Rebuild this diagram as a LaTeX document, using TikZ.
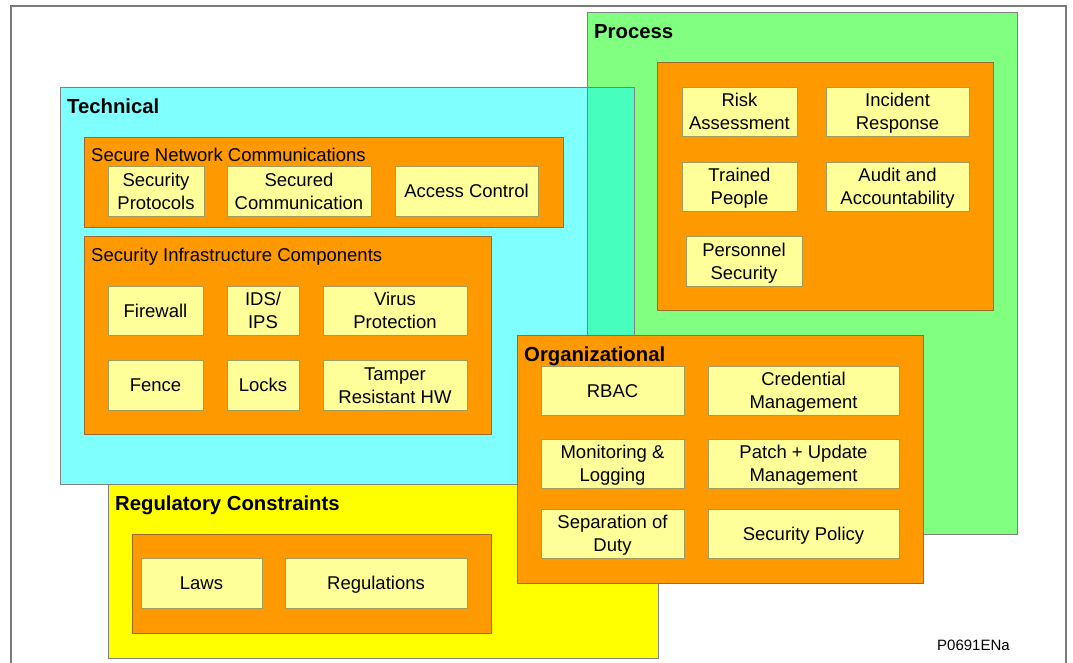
\documentclass[tikz,border=0pt]{standalone}
\usepackage{fontspec}
\setmainfont{Liberation Sans}
\definecolor{cgreen}{HTML}{80FF80}
\definecolor{ccyan}{HTML}{80FFFF}
\definecolor{cteal}{HTML}{46FFBE}
\definecolor{cyel}{HTML}{FFFF00}
\definecolor{corange}{HTML}{FF9900}
\definecolor{corline}{HTML}{9C6A2E}
\definecolor{citem}{HTML}{FFFF99}
\definecolor{citline}{HTML}{A09C60}
\definecolor{cline}{HTML}{808080}
\definecolor{cframe}{HTML}{7A7A7A}
\tikzset{
  outer/.style={draw=cline, line width=0.9pt, inner sep=0pt, outer sep=0pt},
  orbox/.style={draw=corline, fill=corange, line width=0.9pt, inner sep=0pt, outer sep=0pt},
  itembox/.style={draw=citline, fill=citem, line width=0.9pt, inner sep=0pt, outer sep=0pt,
    align=center, font=\fontsize{18.5}{23}\selectfont},
  heading/.style={anchor=base west, inner sep=0pt, font=\fontsize{20.3}{24}\selectfont\bfseries},
  sublabel/.style={anchor=base west, inner sep=0pt, font=\fontsize{18.5}{23}\selectfont},
}
\newcommand\ls{\rule[-3.7pt]{0pt}{20.7pt}}
\newcommand\bx[7]{\node[#6, minimum width={(#4-#2)*1pt}, minimum height={(#5-#3)*1pt}] (#1) at ({(#2+#4)/2},{(#3+#5)/2}) {#7};}
\begin{document}
\begin{tikzpicture}[x=1pt,y=-1pt]
\useasboundingbox (0,0) rectangle (1073,662);
\fill[white] (0,0) rectangle (1073,662);
% frame
\draw[cframe, line width=2pt] (11,670) -- (11,6) -- (1066,6) -- (1066,670);
% big groups
\bx{proc}{587}{12}{1017}{534}{outer, fill=cgreen}{}
\bx{tech}{60}{87}{634}{484}{outer, fill=ccyan}{}
\fill[cteal] (587,87) rectangle (634,484);
\draw[cline, line width=0.9pt] (proc.south west) rectangle (proc.north east);
\draw[cline, line width=0.9pt] (tech.south west) rectangle (tech.north east);
\bx{reg}{108}{484}{658}{658}{outer, fill=cyel}{}
\draw[cline, line width=0.9pt] (tech.south west) -- (tech.south east);
% headings
\node[heading] (hproc) at (594,38) {Process};
\node[heading] (htech) at (67,113) {Technical};
\node[heading] (hreg) at (115,510) {Regulatory Constraints};
% process inner
\bx{procin}{657}{62}{993}{310}{orbox}{}
\bx{risk}{682}{87}{797}{136}{itembox}{\ls Risk\\\ls Assessment}
\bx{incid}{826}{87}{969}{136}{itembox}{\ls Incident\\\ls Response}
\bx{trained}{682}{162}{797}{211}{itembox}{\ls Trained\\\ls People}
\bx{audit}{826}{162}{969}{211}{itembox}{\ls Audit and\\\ls Accountability}
\bx{pers}{686}{236}{802}{286}{itembox}{\ls Personnel\\\ls Security}
% technical inner
\bx{snc}{84}{137}{563}{227}{orbox}{}
\node[sublabel] (lsnc) at (91,161) {Secure Network Communications};
\bx{secprot}{108}{166}{204}{216}{itembox}{\ls Security\\\ls Protocols}
\bx{seccomm}{227}{166}{371}{216}{itembox}{\ls Secured\\\ls Communication}
\bx{access}{395}{166}{538}{216}{itembox}{\ls Access Control}
\bx{sic}{84}{236}{491}{434}{orbox}{}
\node[sublabel] (lsic) at (91,261) {Security Infrastructure Components};
\bx{fire}{108}{286}{203}{335}{itembox}{\ls Firewall}
\bx{ids}{227}{286}{299}{335}{itembox}{\ls IDS/\\\ls IPS}
\bx{virus}{323}{286}{467}{335}{itembox}{\ls Virus\\\ls Protection}
\bx{fence}{108}{360}{203}{410}{itembox}{\ls Fence}
\bx{locks}{227}{360}{299}{410}{itembox}{\ls Locks}
\bx{tamper}{323}{360}{467}{410}{itembox}{\ls Tamper\\\ls Resistant HW}
% regulatory inner
\bx{regin}{132}{534}{491}{633}{orbox}{}
\bx{laws}{141}{558}{262}{608}{itembox}{\ls Laws}
\bx{regs}{285}{558}{467}{608}{itembox}{\ls Regulations}
% organizational
\bx{org}{517}{335}{923}{583}{orbox}{}
\node[heading] (horg) at (524,361) {Organizational};
\bx{rbac}{541}{366}{684}{415}{itembox}{\ls RBAC}
\bx{cred}{708}{366}{899}{415}{itembox}{\ls Credential\\\ls Management}
\bx{monit}{541}{439}{684}{488}{itembox}{\ls Monitoring \&\\\ls Logging}
\bx{patch}{708}{439}{899}{488}{itembox}{\ls Patch + Update\\\ls Management}
\bx{sep}{541}{509}{684}{558}{itembox}{\ls Separation of\\\ls Duty}
\bx{spol}{708}{509}{899}{558}{itembox}{\ls Security Policy}
% tag
\node[anchor=base west, inner sep=0pt, font=\fontsize{15}{18}\selectfont] (tag) at (937,650) {P0691ENa};
\end{tikzpicture}
\end{document}
